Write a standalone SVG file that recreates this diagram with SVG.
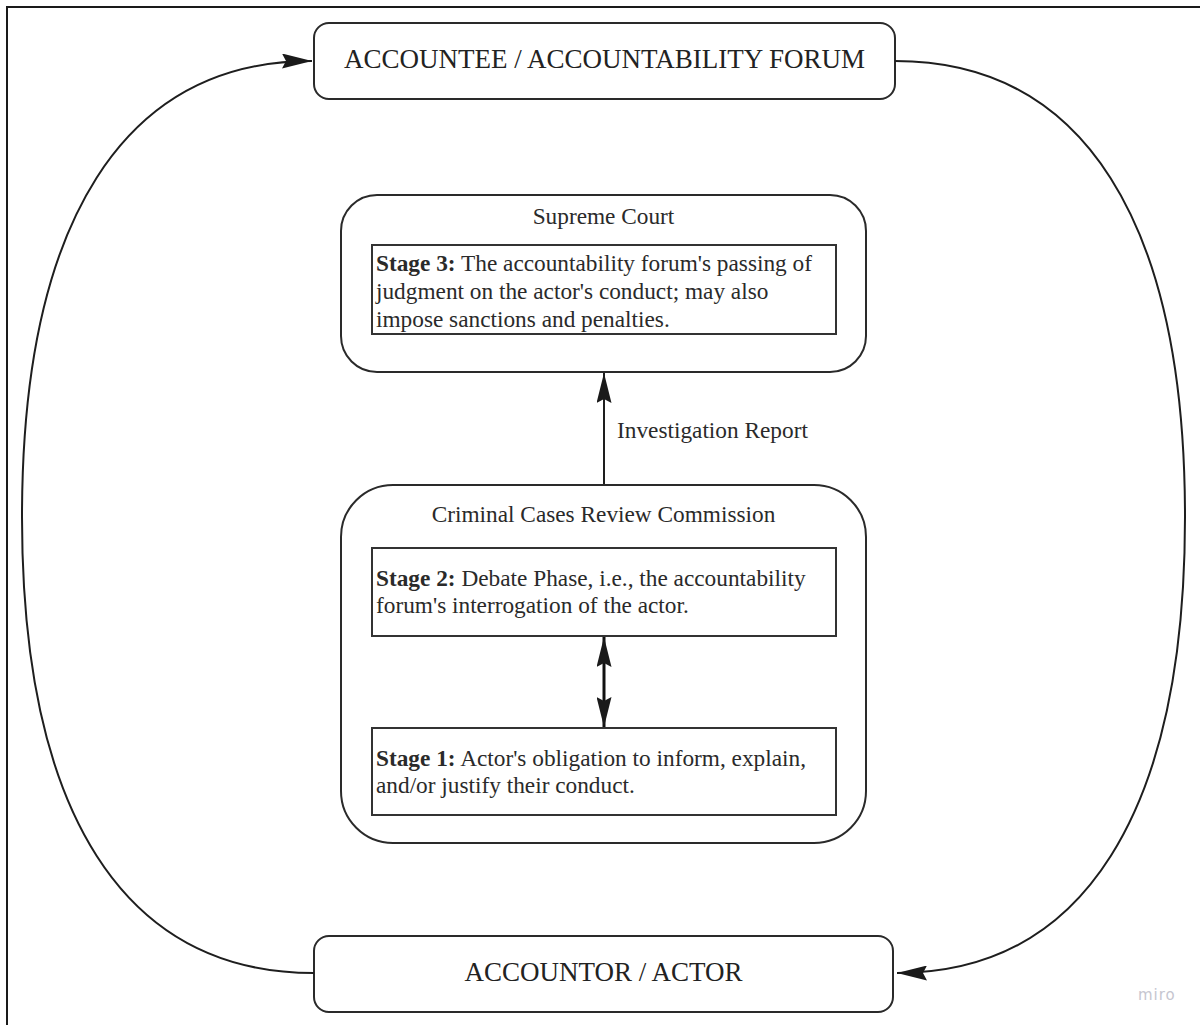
<svg xmlns="http://www.w3.org/2000/svg" width="1200" height="1025" viewBox="0 0 1200 1025">
  <style>
    .bg { fill: #ffffff; }
    .frame { fill: none; stroke: #1a1a1a; stroke-width: 2; }
    .node { fill: #ffffff; stroke: #2a2a2a; stroke-width: 2; }
    .stage { fill: #ffffff; stroke: #333333; stroke-width: 2; }
    .edge { fill: none; stroke: #1e1e1e; stroke-width: 2; }
    .edge-bold { fill: none; stroke: #111111; stroke-width: 3; }
    .title { font-family: "Liberation Serif", "Times New Roman", serif; font-size: 27px; fill: #222222; text-anchor: middle; }
    .label { font-family: "Liberation Serif", "Times New Roman", serif; font-size: 23.3px; fill: #2a2a2a; }
    .center { text-anchor: middle; }
    .watermark { font-family: "DejaVu Sans", "Noto Sans", sans-serif; font-size: 15px; fill: #c6c6d0; letter-spacing: 1px; }
  </style>
  <defs>
    <marker id="arrow" viewBox="0 0 30 15" refX="30" refY="7.5" markerWidth="30" markerHeight="15" markerUnits="userSpaceOnUse" orient="auto-start-reverse">
      <path d="M0,0 L30,7.5 L0,15 L4,7.5 z" fill="#1a1a1a"/>
    </marker>
  </defs>

  <rect class="bg" x="0" y="0" width="1200" height="1025"/>
  <path class="frame" d="M7,1025 V7 H1200"/>

  <g id="forum">
    <rect class="node" x="314" y="23" width="581" height="76" rx="15"/>
    <text class="title" x="604.5" y="68">ACCOUNTEE / ACCOUNTABILITY FORUM</text>
  </g>

  <g id="actor">
    <rect class="node" x="314" y="936" width="579" height="76" rx="15"/>
    <text class="title" x="603.5" y="981">ACCOUNTOR / ACTOR</text>
  </g>

  <g id="supreme-court">
    <rect class="node" x="341" y="195" width="525" height="177" rx="36"/>
    <text class="label center" x="603.5" y="224">Supreme Court</text>
    <g id="stage-3">
      <rect class="stage" x="372" y="245" width="464" height="89"/>
      <text class="label" x="376" y="271"><tspan font-weight="bold">Stage 3:</tspan> The accountability forum's passing of</text>
      <text class="label" x="376" y="299">judgment on the actor's conduct; may also</text>
      <text class="label" x="376" y="327">impose sanctions and penalties.</text>
    </g>
  </g>

  <g id="ccrc">
    <rect class="node" x="341" y="485" width="525" height="358" rx="52"/>
    <text class="label center" x="603.5" y="522">Criminal Cases Review Commission</text>
    <g id="stage-2">
      <rect class="stage" x="372" y="548" width="464" height="88"/>
      <text class="label" x="376" y="586"><tspan font-weight="bold">Stage 2:</tspan> Debate Phase, i.e., the accountability</text>
      <text class="label" x="376" y="613">forum's interrogation of the actor.</text>
    </g>
    <g id="stage-1">
      <rect class="stage" x="372" y="728" width="464" height="87"/>
      <text class="label" x="376" y="766"><tspan font-weight="bold">Stage 1:</tspan> Actor's obligation to inform, explain,</text>
      <text class="label" x="376" y="793">and/or justify their conduct.</text>
    </g>
  </g>

  <!-- connectors, drawn over the node fills -->
  <g id="connectors">
    <!-- actor back to forum, around the left side -->
    <path class="edge" d="M314,973 C124,973 22,813 22,517 C22,221 124,61 312,61" marker-end="url(#arrow)"/>
    <!-- forum down to actor, around the right side -->
    <path class="edge" d="M895,61 C1083,61 1185,221 1185,517 C1185,813 1083,973 897,973" marker-end="url(#arrow)"/>
    <!-- investigation report up to the Supreme Court -->
    <path class="edge" d="M604,484 V373" marker-end="url(#arrow)"/>
    <!-- exchange between stage 1 and stage 2 -->
    <path class="edge-bold" d="M604,637 V727" marker-start="url(#arrow)" marker-end="url(#arrow)"/>
    <text class="label" x="617" y="438">Investigation Report</text>
  </g>

  <text class="watermark" x="1138" y="1000">miro</text>
</svg>
